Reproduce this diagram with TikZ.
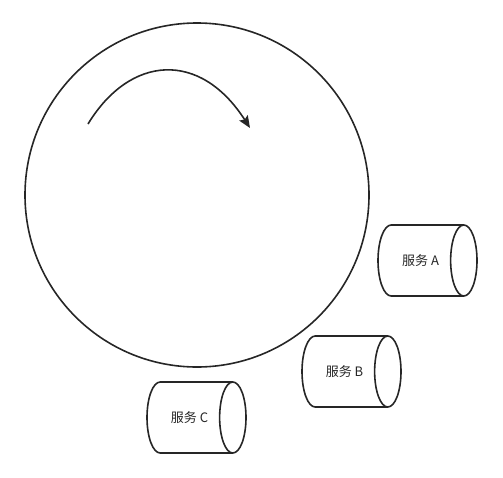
\documentclass[tikz,border=0pt]{standalone}
\usepackage{fontspec}
\newfontfamily\cjk{Noto Sans CJK SC}
\usetikzlibrary{shapes.geometric,arrows.meta}
\definecolor{ink}{HTML}{262626}

\begin{document}
\begin{tikzpicture}[x=1pt, y=-1pt, >={Stealth[length=12pt, width=10pt, inset=2pt]},
		font=\cjk\fontsize{13}{15}\selectfont, line width=1.6pt, draw=ink, text=ink]
		\useasboundingbox (0,0) rectangle (503,477);
		\tikzset{svc/.style={cylinder, draw, shape aspect=2.2, minimum width=71, minimum height=99, inner sep=0pt}}
		% ring and rotation arrow
		\node[circle, draw, minimum size=344] (ring) at (197,195) {};
		\coordinate (arrS) at (88,124);
		\coordinate (arrE) at (250,128);
		\draw[->] (arrS) .. controls (130,55) and (200,50) .. (arrE);
		% services
		\foreach \n/\x/\y in {A/427.5/260.5, B/351.5/371.5, C/196.5/417.5}{
			\node[svc, anchor=shape center] (svc\n) at (\x,\y) {服务 \n};
		}
	\end{tikzpicture}
\end{document}
